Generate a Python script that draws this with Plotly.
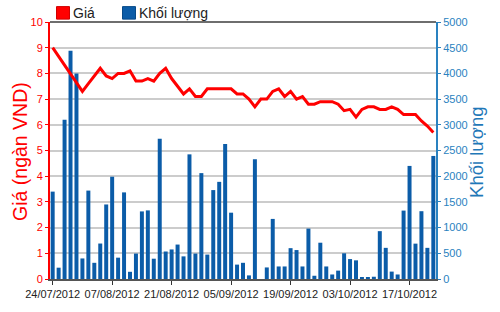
import plotly.graph_objects as go

dates = [
    "24/07/2012", "25/07/2012", "26/07/2012", "27/07/2012", "30/07/2012", "31/07/2012",
    "01/08/2012", "02/08/2012", "03/08/2012", "06/08/2012", "07/08/2012", "08/08/2012",
    "09/08/2012", "10/08/2012", "13/08/2012", "14/08/2012", "15/08/2012", "16/08/2012",
    "17/08/2012", "20/08/2012", "21/08/2012", "22/08/2012", "23/08/2012", "24/08/2012",
    "27/08/2012", "28/08/2012", "29/08/2012", "30/08/2012", "31/08/2012",
    "04/09/2012", "05/09/2012", "06/09/2012", "07/09/2012", "10/09/2012", "11/09/2012",
    "12/09/2012", "13/09/2012", "14/09/2012", "17/09/2012", "18/09/2012", "19/09/2012",
    "20/09/2012", "21/09/2012", "24/09/2012", "25/09/2012", "26/09/2012", "27/09/2012",
    "28/09/2012",
    "01/10/2012", "02/10/2012", "03/10/2012", "04/10/2012", "05/10/2012", "08/10/2012",
    "09/10/2012", "10/10/2012", "11/10/2012", "12/10/2012", "15/10/2012", "16/10/2012",
    "17/10/2012", "18/10/2012", "19/10/2012", "22/10/2012", "23/10/2012",
]

price = [
    9.0, 8.65, 8.3, 7.95, 7.6, 7.3, 7.6, 7.9, 8.2, 7.9,
    7.8, 8.0, 8.0, 8.1, 7.7, 7.7, 7.8, 7.7, 8.0, 8.2,
    7.8, 7.5, 7.2, 7.4, 7.1, 7.1, 7.4, 7.4, 7.4, 7.4,
    7.4, 7.2, 7.2, 7.0, 6.7, 7.0, 7.0, 7.3, 7.4, 7.1,
    7.3, 7.0, 7.1, 6.8, 6.8, 6.9, 6.9, 6.9, 6.8, 6.55,
    6.6, 6.3, 6.6, 6.7, 6.7, 6.6, 6.6, 6.7, 6.6, 6.4,
    6.4, 6.4, 6.15, 5.95, 5.7,
]

volume = [
    1700, 220, 3100, 4440, 4000, 400, 1720, 315, 690, 1450,
    1990, 415, 1685, 140, 495, 1315, 1335, 395, 2730, 535,
    575, 670, 440, 2425, 495, 2060, 475, 1730, 1890, 2625,
    1290, 280, 315, 70, 2330, 0, 225, 1169, 244, 244,
    600, 563, 244, 981, 63, 706, 244, 88, 163, 500,
    388, 363, 25, 25, 44, 931, 606, 144, 88, 1331,
    2200, 688, 1319, 606, 2394,
]

tick_labels = ["24/07/2012", "07/08/2012", "21/08/2012", "05/09/2012",
               "19/09/2012", "03/10/2012", "17/10/2012"]
price_ticks = list(range(0, 11))
volume_ticks = list(range(0, 5001, 500))

RED = "#ff0000"
BLUE = "#0b5ca8"
RBLUE = "#2a82c0"
NARROW = "Liberation Sans Narrow, Arial Narrow, Liberation Sans, Arial, sans-serif"
SANS = "Liberation Sans, Arial, sans-serif"

W, H = 500, 312
L, R, T, B = 50, 64, 22, 23
PW, PH = W - L - R, H - T - B

def px(x):
    return (x - L) / PW

def py(y):
    return (H - B - y) / PH

fig = go.Figure()
fig.add_trace(go.Bar(
    x=dates, y=volume, name="Khối lượng", marker=dict(color=BLUE, line=dict(width=0)),
    yaxis="y", showlegend=False,
))
fig.add_trace(go.Scatter(
    x=dates, y=price, name="Giá", mode="lines",
    line=dict(color=RED, width=3), yaxis="y2", showlegend=False,
))

shapes = [
    dict(type="line", xref="paper", yref="paper", x0=0, x1=1, y0=1, y1=1,
         line=dict(color="#6e6e6e", width=2)),
    dict(type="rect", xref="paper", yref="paper", x0=px(56.5), x1=px(69.5), y0=py(19), y1=py(6),
         fillcolor=RED, line=dict(color="#d00000", width=1)),
    dict(type="rect", xref="paper", yref="paper", x0=px(122.5), x1=px(135.5), y0=py(19), y1=py(6),
         fillcolor=BLUE, line=dict(color="#084a88", width=1)),
]

annotations = [
    dict(text="Giá", xref="paper", yref="paper", x=px(71), y=py(12.5), xanchor="left",
         yanchor="middle", showarrow=False, font=dict(family=SANS, size=14, color="#222222")),
    dict(text="Khối lượng", xref="paper", yref="paper", x=px(137), y=py(12.5), xanchor="left",
         yanchor="middle", showarrow=False, font=dict(family=SANS, size=14, color="#222222")),
    dict(text="Giá (ngàn VND)", xref="paper", yref="paper", x=px(20), y=py(157),
         xanchor="center", yanchor="middle", textangle=-90, showarrow=False,
         font=dict(family=SANS, size=19.5, color=RED)),
    dict(text="Khối lượng", xref="paper", yref="paper", x=px(477), y=py(158),
         xanchor="center", yanchor="middle", textangle=-90, showarrow=False,
         font=dict(family=SANS, size=18.5, color="#1f78b8")),
]

fig.update_layout(
    width=W, height=H,
    margin=dict(l=L, r=R, t=T, b=B, pad=0),
    paper_bgcolor="white", plot_bgcolor="white",
    bargap=0.33,
    showlegend=False,
    xaxis=dict(
        type="category", range=[-0.45, 64.45],
        tickmode="array", tickvals=tick_labels, ticktext=tick_labels,
        ticks="outside", ticklen=4, tickcolor="#333333", tickwidth=1,
        showline=True, linecolor="#555555", linewidth=2,
        showgrid=False, zeroline=False,
        tickfont=dict(family=NARROW, size=11, color="#222222"),
        fixedrange=True,
    ),
    yaxis=dict(
        side="right", range=[0, 5000], tickmode="array", tickvals=volume_ticks,
        ticks="outside", ticklen=3, tickcolor=RBLUE,
        showline=True, linecolor=RBLUE, linewidth=2,
        showgrid=True, gridcolor="#cccccc", gridwidth=2,
        zeroline=False,
        tickfont=dict(family=NARROW, size=11, color=RBLUE),
    ),
    yaxis2=dict(
        side="left", overlaying="y", range=[0, 10], tickmode="array", tickvals=price_ticks,
        ticks="outside", ticklen=3, tickcolor=RED,
        showline=True, linecolor=RED, linewidth=2,
        showgrid=False, zeroline=False,
        tickfont=dict(family=NARROW, size=11, color=RED),
    ),
    shapes=shapes,
    annotations=annotations,
)

fig.write_html("out.html")
